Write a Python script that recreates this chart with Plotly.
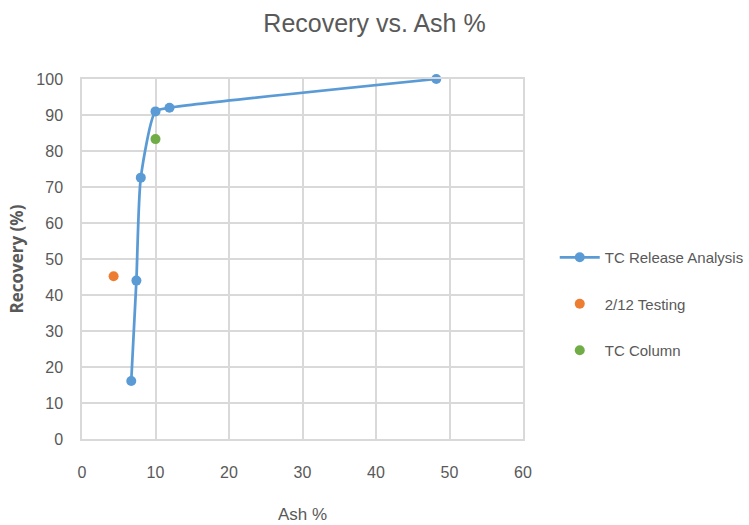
import plotly.graph_objects as go

# Release analysis curve
ash_release = [6.7, 7.4, 8.0, 10.0, 11.9, 48.2]
rec_release = [16.1, 44.0, 72.6, 91.0, 92.0, 100.0]

# Single-point tests
ash_testing = [4.3]
rec_testing = [45.2]
ash_column = [10.0]
rec_column = [83.3]

grey = "#595959"
grid = "#d9d9d9"
font_family = "Liberation Sans, Arial, sans-serif"

fig = go.Figure()
fig.add_trace(go.Scatter(
    x=ash_release, y=rec_release, name="TC Release Analysis",
    mode="lines+markers", legendgroup="a", cliponaxis=False,
    line=dict(color="#5b9bd5", width=2.75, shape="spline", smoothing=0.6),
    marker=dict(color="#5b9bd5", size=10),
))
fig.add_trace(go.Scatter(
    x=ash_testing, y=rec_testing, name="2/12 Testing",
    mode="markers", legendgroup="b", cliponaxis=False,
    marker=dict(color="#ed7d31", size=10),
))
fig.add_trace(go.Scatter(
    x=ash_column, y=rec_column, name="TC Column",
    mode="markers", legendgroup="c", cliponaxis=False,
    marker=dict(color="#70ad47", size=10),
))

fig.update_layout(
    width=749, height=525,
    margin=dict(l=82, r=226, t=79, b=86, autoexpand=False),
    paper_bgcolor="white", plot_bgcolor="white",
    font=dict(family=font_family, color=grey, size=15),
    title=dict(text="Recovery vs. Ash %", x=0.5, xanchor="center",
               y=0.955, yanchor="middle",
               font=dict(size=25, color=grey, family=font_family)),
    xaxis=dict(range=[0, 60], dtick=10, showgrid=True, gridcolor=grid,
               gridwidth=1.5, zeroline=False, showline=True, linecolor=grid,
               linewidth=1.5, mirror=True, ticks="outside", ticklen=18,
               tickcolor="rgba(0,0,0,0)",
               tickfont=dict(size=16, color=grey),
               title=dict(text="Ash %", font=dict(size=17, color=grey),
                          standoff=28)),
    yaxis=dict(range=[0, 100], dtick=10, showgrid=True, gridcolor=grid,
               gridwidth=1.5, zeroline=False, showline=True, linecolor=grid,
               linewidth=1.5, mirror=True, ticks="outside", ticklen=14,
               tickcolor="rgba(0,0,0,0)",
               tickfont=dict(size=16, color=grey),
               title=dict(text="<b>Recovery (%)</b>",
                          font=dict(size=17, color=grey,
                                    family="Open Sans, Arial, sans-serif"),
                          standoff=8)),
    legend=dict(x=1.072, xanchor="left", y=0.375, yanchor="middle",
                font=dict(size=15, color=grey), tracegroupgap=24,
                itemwidth=40, bgcolor="rgba(0,0,0,0)"),
    showlegend=True,
)

fig.write_html("out.html")
